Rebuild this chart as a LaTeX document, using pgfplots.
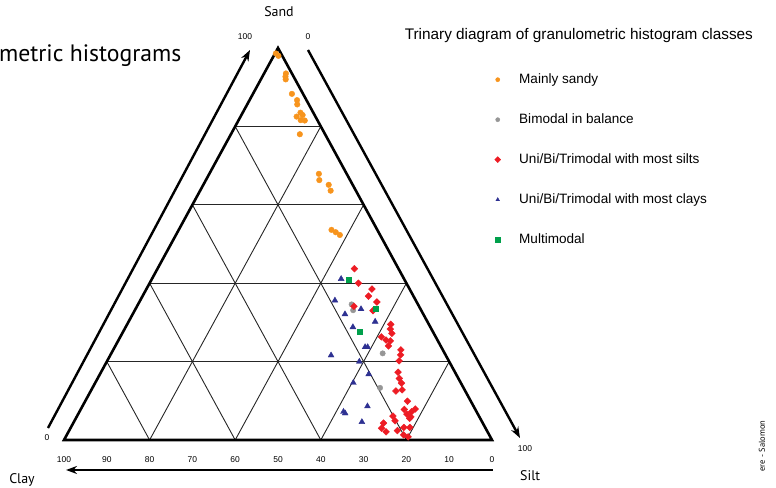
\documentclass[border=0pt]{standalone}
\usepackage{fontspec}
\setmainfont{Liberation Sans}
\newfontfamily\labelfont{PT Sans}
\usepackage{pgfplots}
\usepackage{pgfplotstable}
\pgfplotsset{compat=1.18}
\usetikzlibrary{arrows.meta}

\definecolor{csandy}{RGB}{247,148,29}
\definecolor{cbimod}{RGB}{150,150,150}
\definecolor{csilt}{RGB}{237,28,36}
\definecolor{cclay}{RGB}{46,49,146}
\definecolor{cmulti}{RGB}{0,160,75}

% ternary values in percent: sand (top vertex) and clay (bottom left); silt = 100 - sand - clay
\pgfplotstableread{
sand clay
98.6 1.2
98.0 0.9
93.5 1.4
92.7 1.9
92.0 2.2
88.3 2.6
86.7 2.2
85.6 2.7
83.5 3.0
82.9 2.8
82.5 4.4
81.6 3.9
81.5 3.0
78.0 5.9
67.9 6.5
66.3 7.2
65.1 5.6
63.6 5.9
53.6 10.7
53.0 10.0
52.3 9.4
}\sandy

\pgfplotstableread{
sand clay
34.6 15.5
33.1 15.9
22.1 14.5
13.3 19.5
}\bimodal

\pgfplotstableread{
sand clay
43.7 10.3
40.0 11.2
38.5 8.8
36.7 10.5
35.2 9.3
34.1 15.2
33.0 11.3
29.5 8.9
28.3 9.6
27.2 9.8
26.3 12.7
25.5 12.0
25.3 11.1
24.0 12.2
23.0 9.8
21.7 10.5
20.2 11.6
17.3 13.3
15.7 13.8
14.5 13.9
12.5 16.2
12.8 14.6
9.9 14.8
7.8 16.6
6.6 16.6
5.5 16.5
7.9 14.0
7.2 15.2
5.9 16.0
6.1 20.1
4.9 20.2
4.3 23.2
3.0 24.3
2.1 23.7
2.4 20.9
3.2 19.0
3.2 17.6
1.3 20.0
0.8 19.2
}\silts

\pgfplotstableread{
sand clay
41.1 14.7
35.6 18.9
33.4 13.9
32.1 18.3
30.2 12.2
28.8 18.1
23.7 17.8
23.7 17.2
21.6 26.8
20.0 21.0
16.8 20.4
14.6 25.1
7.2 31.1
6.8 30.9
8.6 24.8
4.6 28.1
}\clays

\pgfplotstableread{
sand clay
40.8 13.0
33.6 10.4
27.6 17.0
}\multi

\begin{document}
\begin{tikzpicture}
\begin{axis}[
  width=776bp, height=488bp, scale only axis,
  xmin=-14.953, xmax=166.355, ymin=-12.245, ymax=112.245,
  axis lines=none, clip=false,
  legend style={at={(axis cs:99.9,94.13)}, anchor=north west,
    draw=none, fill=none, font=\fontsize{13.6}{16}\selectfont,
    row sep=27bp, nodes={inner sep=0pt, text height=10bp, text depth=3bp},
    /tikz/every odd column/.append style={column sep=18.5bp}},
  legend cell align=left,
  legend image post style={mark size=2.1bp},
  grid seg/.style={black!85, line width=0.9bp, forget plot},
]
% 20 % grid
\addplot[grid seg] coordinates {(10,20) (90,20)};
\addplot[grid seg] coordinates {(20,40) (80,40)};
\addplot[grid seg] coordinates {(30,60) (70,60)};
\addplot[grid seg] coordinates {(40,80) (60,80)};
\addplot[grid seg] coordinates {(20,0) (60,80)};
\addplot[grid seg] coordinates {(40,0) (70,60)};
\addplot[grid seg] coordinates {(60,0) (80,40)};
\addplot[grid seg] coordinates {(80,0) (90,20)};
\addplot[grid seg] coordinates {(80,0) (40,80)};
\addplot[grid seg] coordinates {(60,0) (30,60)};
\addplot[grid seg] coordinates {(40,0) (20,40)};
\addplot[grid seg] coordinates {(20,0) (10,20)};
\draw[line width=2.6bp, line join=miter] (axis cs:0,0) -- (axis cs:100,0) -- (axis cs:50,100) -- cycle;

% x = silt + sand/2 = 100 - clay - sand/2, y = sand
\addplot[only marks, mark=*, mark size=2.8bp, color=csandy]
  table[x expr={100-\thisrow{clay}-\thisrow{sand}/2}, y=sand] {\sandy};
\addlegendentry{Mainly sandy}
\addplot[only marks, mark=*, mark size=2.7bp, color=cbimod]
  table[x expr={100-\thisrow{clay}-\thisrow{sand}/2}, y=sand] {\bimodal};
\addlegendentry{Bimodal in balance}
\addplot[only marks, mark=square*, mark size=2.4bp, mark options={rotate=45}, color=csilt]
  table[x expr={100-\thisrow{clay}-\thisrow{sand}/2}, y=sand] {\silts};
\addlegendentry{Uni/Bi/Trimodal with most silts}
\addplot[only marks, mark=triangle*, mark size=3.4bp, color=cclay]
  table[x expr={100-\thisrow{clay}-\thisrow{sand}/2}, y=sand] {\clays};
\addlegendentry{Uni/Bi/Trimodal with most clays}
\addplot[only marks, mark=square*, mark size=2.5bp, color=cmulti]
  table[x expr={100-\thisrow{clay}-\thisrow{sand}/2}, y=sand] {\multi};
\addlegendentry{Multimodal}

% outer arrows
\draw[line width=2.4bp, -{Stealth[length=11bp,width=8bp]}] (axis cs:-3.74,3.06) -- (axis cs:43.46,99.49);
\draw[line width=2.4bp, -{Stealth[length=11bp,width=8bp]}] (axis cs:57.01,99.49) -- (axis cs:106.54,0.51);
\draw[line width=2.4bp, -{Stealth[length=11bp,width=8bp]}] (axis cs:100.23,-7.65) -- (axis cs:0.47,-7.65);

% axis texts
\begin{scope}[every node/.style={font=\labelfont\fontsize{14}{16}\selectfont}]
\node at (axis cs:50.23,109.18) {Sand};
\node at (axis cs:-9.81,-10.2) {Clay};
\node at (axis cs:108.9,-9.18) {Silt};
\end{scope}
\node[anchor=west, font=\labelfont\fontsize{23.8}{28}\selectfont] at (axis cs:-16.0,98.0) {metric histograms};
\node[anchor=west, font=\fontsize{15.4}{18}\selectfont] at (axis cs:78.8,103.3) {Trinary diagram of granulometric histogram classes};
\node[rotate=90, font=\labelfont\fontsize{8.5}{10}\selectfont] at (axis cs:163.08,-1.53) {ere - Salomon};

\begin{scope}[every node/.style={font=\fontsize{8.5}{10}\selectfont}]
\node at (axis cs:42.29,102.81) {100};
\node at (axis cs:57.01,102.81) {0};
\node at (axis cs:-3.97,0.51) {0};
\node at (axis cs:107.7,-2.3) {100};
\node at (axis cs:0,-4.95) {100};
\node at (axis cs:10,-4.95) {90};
\node at (axis cs:20,-4.95) {80};
\node at (axis cs:30,-4.95) {70};
\node at (axis cs:40,-4.95) {60};
\node at (axis cs:50,-4.95) {50};
\node at (axis cs:60,-4.95) {40};
\node at (axis cs:70,-4.95) {30};
\node at (axis cs:80,-4.95) {20};
\node at (axis cs:90,-4.95) {10};
\node at (axis cs:100,-4.95) {0};
\end{scope}
\end{axis}
\pgfresetboundingbox
\useasboundingbox (current axis.south west) rectangle (current axis.north east);
\end{tikzpicture}
\end{document}
